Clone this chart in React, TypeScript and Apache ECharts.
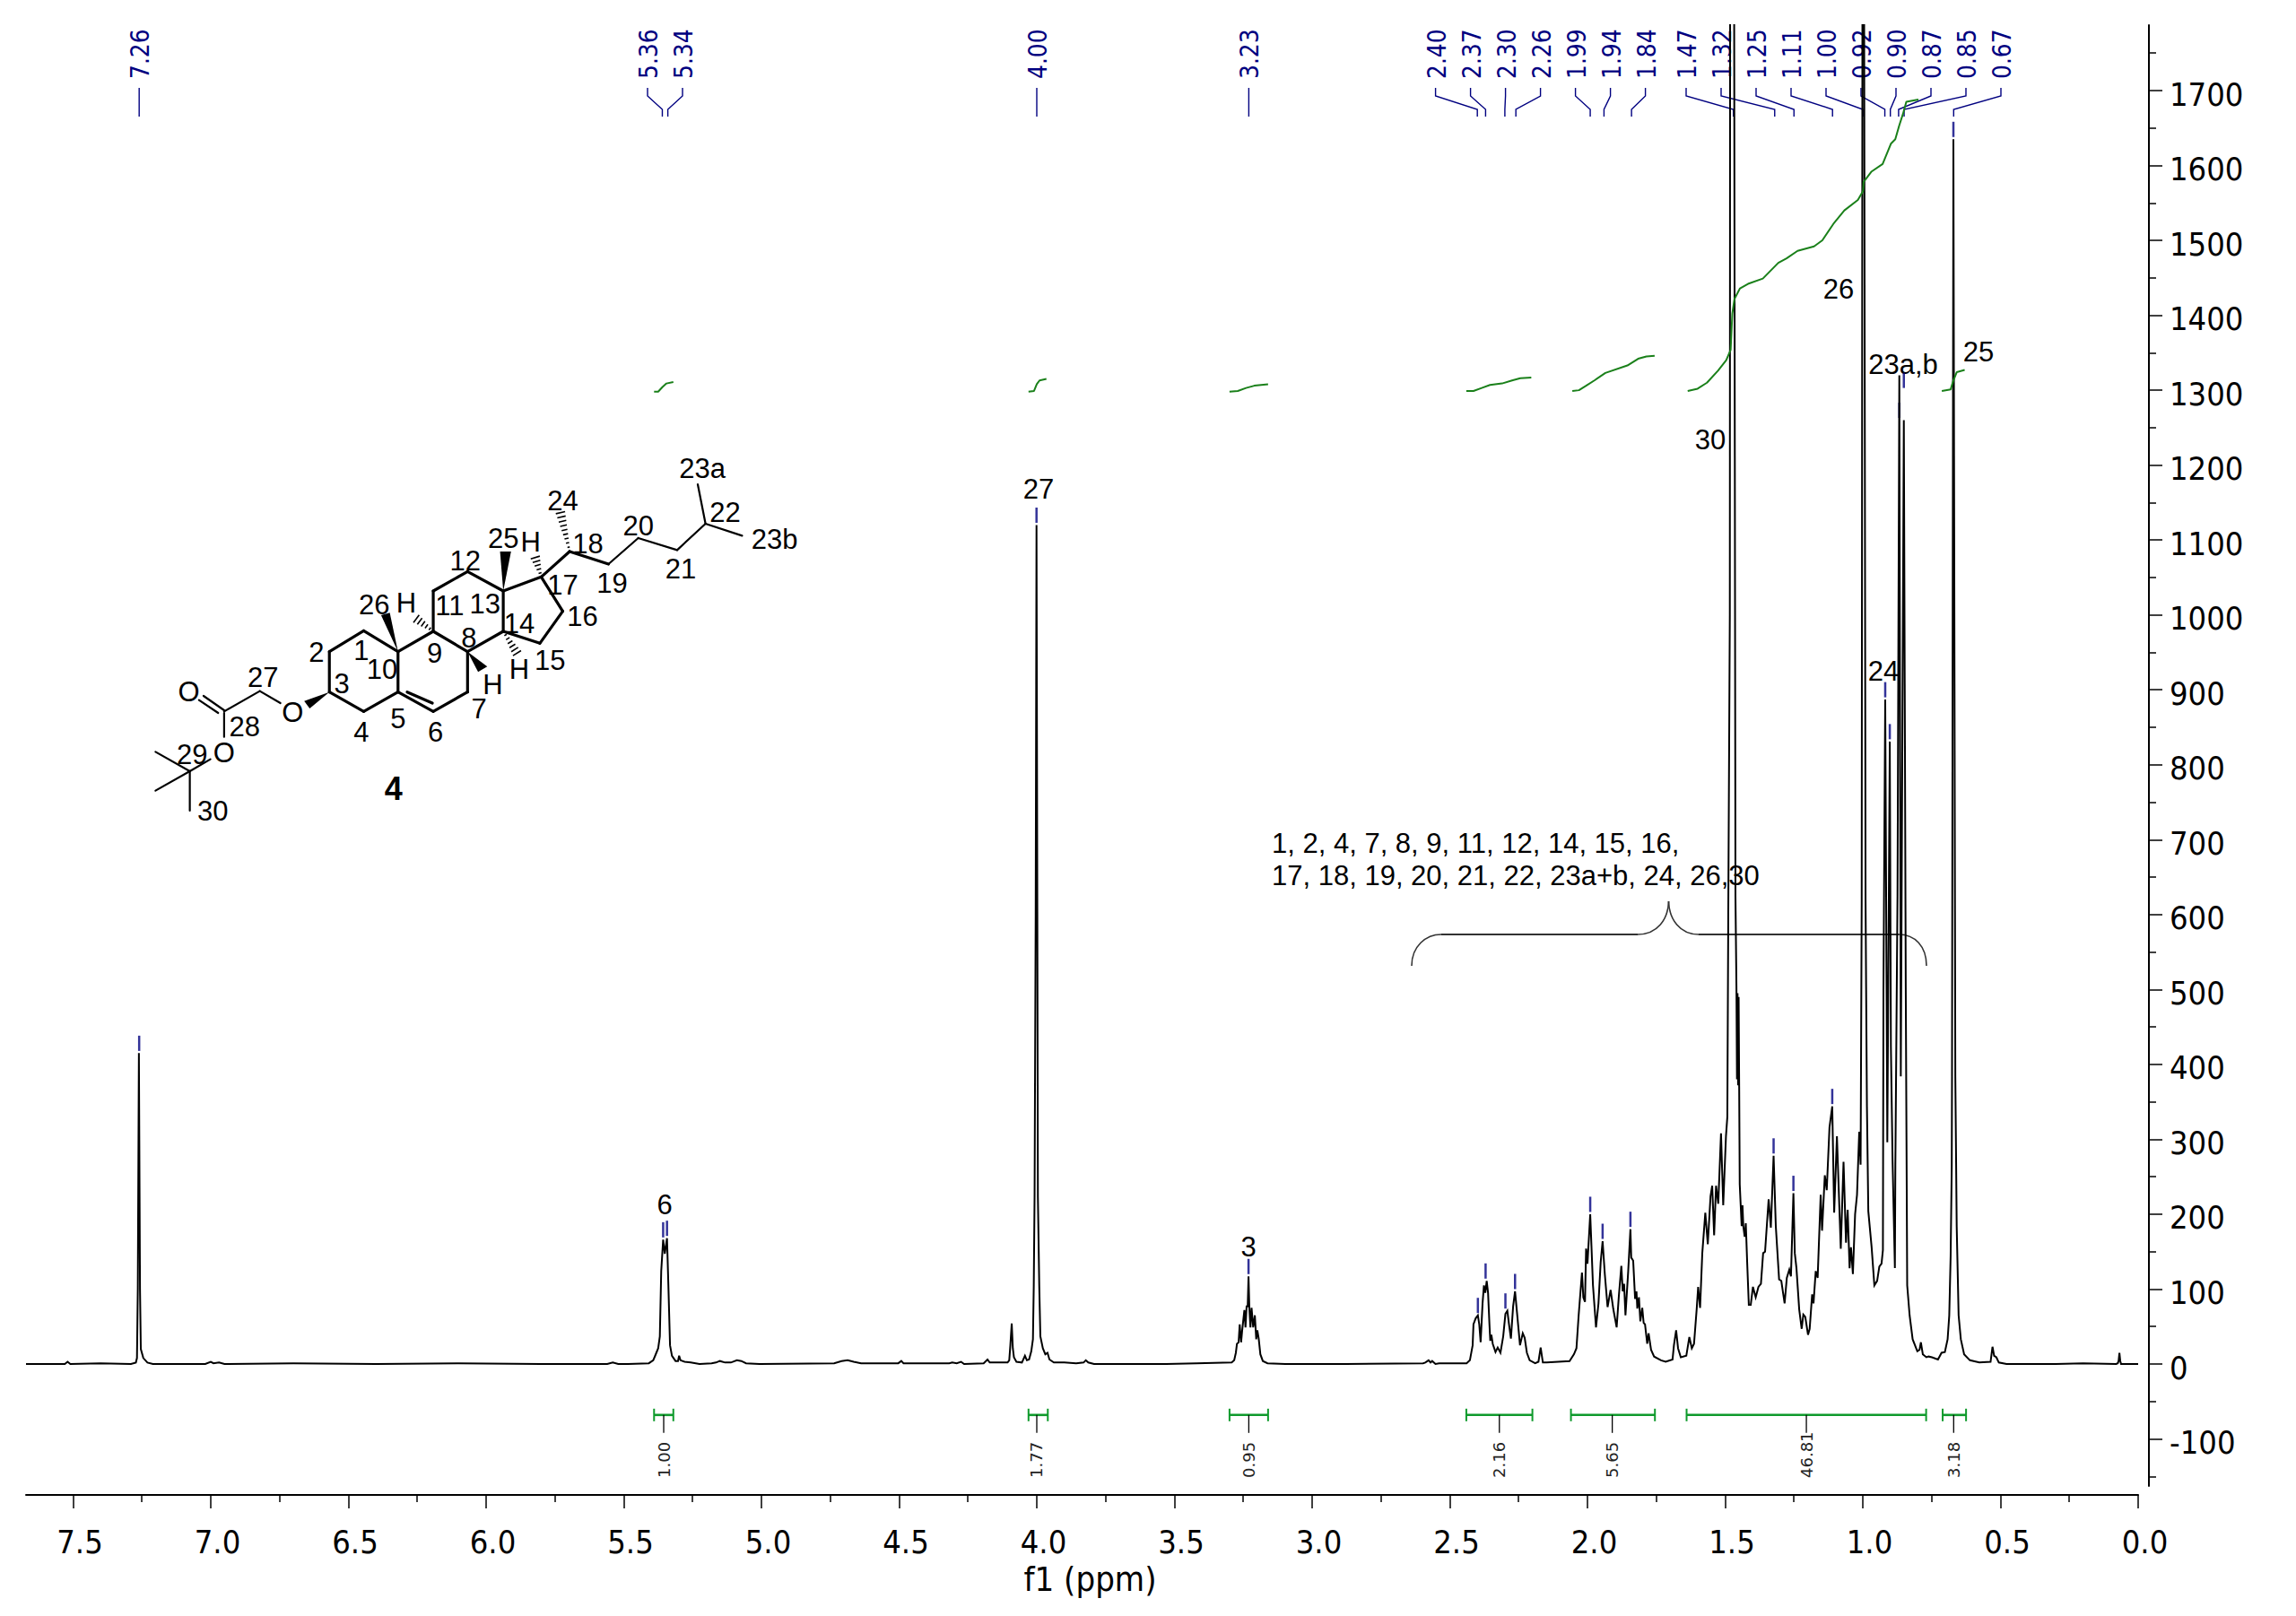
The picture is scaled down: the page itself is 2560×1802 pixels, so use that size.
import React, { useEffect, useRef } from "react";
import * as echarts from "echarts";

// ---------- DATA (ppm, intensity pairs) ----------
const spectrumHighField: [number, number][] = [
  [7.671, 0], [7.6, 0], [7.53, 0], [7.52, 3], [7.51, 0], [7.4, 1], [7.29, 0], [7.272, 2], [7.268, 8], [7.265, 100],
  [7.261, 415], [7.257, 100], [7.254, 20], [7.245, 8], [7.23, 2], [7.21, 0], [7.02, 0], [7.0, 3], [6.99, 1], [6.97, 2], [6.95, 0],
  [6.7, 1], [6.4, 0], [6.1, 1], [5.8, 0], [5.56, 0], [5.54, 2], [5.52, 0],
];
const spectrumOlefin: [number, number][] = [
  [5.485, 0], [5.409, 1], [5.393, 5], [5.385, 12], [5.375, 21], [5.369, 37], [5.364, 124], [5.357, 166], [5.351, 147],
  [5.343, 168], [5.338, 105], [5.332, 25], [5.325, 11], [5.312, 4], [5.303, 4], [5.299, 11], [5.294, 5], [5.279, 3],
  [5.257, 2], [5.225, 0], [5.181, 1], [5.165, 2], [5.151, 4], [5.132, 2], [5.111, 2], [5.089, 5], [5.073, 4], [5.056, 1],
  [5.007, 0], [4.736, 1], [4.709, 4], [4.687, 5], [4.665, 3], [4.638, 1], [4.503, 1], [4.492, 4], [4.484, 1], [4.318, 1],
  [4.307, 2], [4.291, 1], [4.275, 3], [4.264, 0], [4.193, 1], [4.179, 6], [4.171, 2],
];
const spectrumOCH2: [number, number][] = [
  [4.106, 2], [4.1, 5], [4.096, 25], [4.091, 54], [4.087, 21], [4.083, 9], [4.074, 3], [4.054, 2], [4.043, 11], [4.036, 5],
  [4.028, 6], [4.02, 17], [4.014, 33], [4.011, 104], [4.008, 224], [4.004, 600], [4.001, 1120], [3.998, 600], [3.996, 224],
  [3.991, 104], [3.987, 37], [3.978, 21], [3.969, 13], [3.961, 15], [3.954, 6], [3.938, 2], [3.9, 2], [3.857, 1], [3.83, 2],
  [3.822, 5], [3.813, 2], [3.792, 0], [3.531, 0],
];
const spectrumOCH: [number, number][] = [
  [3.42, 1], [3.292, 2], [3.283, 5], [3.277, 15], [3.273, 27], [3.267, 29], [3.263, 53], [3.258, 29], [3.254, 45], [3.246, 72],
  [3.242, 49], [3.238, 77], [3.234, 77], [3.231, 117], [3.228, 75], [3.224, 49], [3.22, 75], [3.214, 49], [3.208, 65], [3.203, 33],
  [3.199, 45], [3.194, 34], [3.188, 13], [3.179, 4], [3.162, 1], [3.097, 0], [2.88, 0],
];
const spectrumAllylic: [number, number][] = [
  [2.597, 1], [2.589, 2], [2.577, 5], [2.57, 2], [2.564, 4], [2.552, 0], [2.539, 1], [2.439, 1], [2.427, 5], [2.417, 25],
  [2.414, 53], [2.406, 61], [2.398, 65], [2.393, 53], [2.388, 29], [2.381, 81], [2.376, 105], [2.371, 95], [2.366, 111],
  [2.361, 95], [2.356, 53], [2.353, 31], [2.349, 39], [2.344, 27], [2.334, 16], [2.326, 22], [2.316, 15], [2.306, 37],
  [2.298, 67], [2.291, 71], [2.285, 53], [2.278, 34], [2.27, 77], [2.263, 97], [2.256, 69], [2.245, 25], [2.235, 41],
  [2.228, 35], [2.22, 15], [2.21, 5], [2.19, 1], [2.178, 3], [2.17, 22], [2.162, 2], [2.148, 2], [2.065, 4],
];
const spectrumMethylene: [number, number][] = [
  [2.049, 13], [2.04, 21], [2.032, 65], [2.02, 122], [2.015, 89], [2.009, 83], [2.005, 154], [2.0, 134], [1.99, 200],
  [1.98, 105], [1.969, 49], [1.96, 81], [1.952, 136], [1.945, 164], [1.937, 120], [1.927, 76], [1.916, 99], [1.906, 73],
  [1.894, 49], [1.886, 91], [1.877, 131], [1.872, 97], [1.867, 107], [1.862, 65], [1.852, 124], [1.844, 180], [1.841, 142],
  [1.834, 138], [1.827, 87], [1.822, 97], [1.819, 74], [1.813, 89], [1.808, 57], [1.801, 75], [1.796, 55], [1.791, 53],
  [1.783, 27], [1.778, 41], [1.769, 19], [1.758, 10], [1.733, 5], [1.716, 3], [1.691, 6], [1.686, 25], [1.678, 45],
  [1.671, 21], [1.661, 9], [1.641, 11], [1.63, 36], [1.621, 21], [1.613, 27], [1.603, 75], [1.598, 103], [1.591, 75],
  [1.583, 148], [1.572, 202], [1.563, 160], [1.553, 224], [1.547, 238], [1.54, 172], [1.533, 238], [1.525, 214], [1.515, 308],
  [1.507, 212], [1.497, 304], [1.492, 330], [1.4886, 600], [1.483, 1000],
];
const spectrumTertButyl: [number, number][] = [
  [1.481, 2500], [1.476, 4000], [1.47, 2500], [1.466, 1500], [1.4625, 624], [1.459, 505], [1.457, 380], [1.455, 495],
  [1.453, 372], [1.451, 490], [1.449, 370], [1.447, 240], [1.44, 184], [1.437, 212], [1.434, 184], [1.429, 170], [1.425, 188],
  [1.42, 136], [1.414, 79], [1.407, 79], [1.399, 103], [1.389, 89], [1.379, 103], [1.37, 107], [1.362, 148], [1.355, 150],
  [1.342, 220], [1.334, 182], [1.324, 278], [1.316, 184], [1.304, 113], [1.296, 111], [1.284, 81], [1.276, 115], [1.267, 126],
  [1.261, 117], [1.252, 228], [1.247, 148], [1.241, 128], [1.231, 73], [1.222, 47], [1.216, 66], [1.209, 63], [1.199, 39],
  [1.193, 47], [1.184, 93], [1.179, 81], [1.171, 124], [1.164, 115], [1.153, 226], [1.148, 178], [1.138, 252], [1.131, 232],
  [1.121, 316], [1.111, 344], [1.104, 202], [1.094, 304], [1.08, 154], [1.07, 270], [1.061, 162], [1.055, 206], [1.048, 128],
  [1.043, 156], [1.036, 120], [1.028, 200], [1.021, 226], [1.013, 310], [1.008, 266],
];
const spectrumMethyls: [number, number][] = [
  [1.004, 620], [1.001, 2000], [0.9985, 3000], [0.996, 2000], [0.99, 620], [0.988, 503], [0.985, 344], [0.98, 204],
  [0.968, 156], [0.958, 105], [0.948, 111], [0.94, 130], [0.932, 134], [0.927, 152], [0.925, 500], [0.9186, 887], [0.911, 296],
  [0.902, 831], [0.898, 424], [0.892, 273], [0.8835, 128], [0.8818, 265], [0.874, 624], [0.8674, 1320], [0.862, 384],
  [0.851, 1260], [0.844, 503], [0.8388, 105], [0.83, 65], [0.819, 33], [0.802, 17], [0.794, 19], [0.789, 29], [0.782, 13],
  [0.769, 9], [0.761, 10], [0.749, 9], [0.727, 6], [0.714, 15], [0.702, 16], [0.692, 33], [0.686, 65], [0.681, 144],
  [0.677, 264], [0.676, 384], [0.671, 1635], [0.664, 384], [0.659, 184], [0.652, 65], [0.644, 33], [0.632, 13], [0.611, 5],
  [0.577, 2], [0.536, 3], [0.529, 23], [0.523, 11], [0.515, 9], [0.506, 2], [0.478, 0], [0.3, 0], [0.2, 1], [0.08, 0],
  [0.074, 1], [0.071, 4], [0.068, 15], [0.065, 4], [0.062, 0], [0, 0],
];

const integralCurves: [number, number][][] = [
  [[5.39, 1298], [5.375, 1298], [5.36, 1304], [5.345, 1309], [5.32, 1311]],
  [[4.03, 1298], [4.01, 1299], [4.0, 1308], [3.99, 1313], [3.965, 1315]],
  [[3.3, 1298], [3.27, 1299], [3.24, 1303], [3.21, 1306], [3.16, 1308]],
  [[2.44, 1299], [2.414, 1299], [2.384, 1303], [2.354, 1307], [2.31, 1309], [2.274, 1313], [2.244, 1316], [2.204, 1317]],
  [[2.055, 1299], [2.031, 1300], [2.005, 1306], [1.975, 1313], [1.935, 1323], [1.855, 1333], [1.816, 1342], [1.786, 1345], [1.756, 1346]],
  [[1.636, 1299], [1.6, 1302], [1.566, 1310], [1.526, 1326], [1.496, 1340], [1.48, 1354], [1.474, 1402], [1.466, 1422], [1.446, 1436],
   [1.417, 1442], [1.363, 1449], [1.307, 1470], [1.277, 1476], [1.237, 1486], [1.177, 1492], [1.147, 1500], [1.107, 1522], [1.067, 1540],
   [1.018, 1554], [0.999, 1566], [0.997, 1578], [0.968, 1592], [0.928, 1602], [0.898, 1629], [0.882, 1635], [0.868, 1653], [0.854, 1669],
   [0.842, 1685], [0.798, 1688]],
  [[0.713, 1299], [0.681, 1301], [0.672, 1312], [0.659, 1324], [0.63, 1327]],
];

const integralFrom = [5.39, 4.03, 3.3, 2.44, 2.06, 1.64, 0.71];
const integralTo = [5.32, 3.96, 3.16, 2.2, 1.755, 0.77, 0.625];
const integralMid = [5.355, 4.0, 3.23, 2.32, 1.91, 1.205, 0.67];
const integralLabels = ["1.00", "1.77", "0.95", "2.16", "5.65", "46.81", "3.18"];

const peakPpm = [7.26, 5.36, 5.34, 4.0, 3.23, 2.4, 2.37, 2.3, 2.26, 1.99, 1.94, 1.84, 1.47, 1.32, 1.25, 1.11, 1.0, 0.92, 0.9, 0.87, 0.85, 0.67];
const peakLabels = ["7.26", "5.36", "5.34", "4.00", "3.23", "2.40", "2.37", "2.30", "2.26", "1.99", "1.94", "1.84", "1.47", "1.32", "1.25", "1.11", "1.00", "0.92", "0.90", "0.87", "0.85", "0.67"];
const markerPoints: [number, number][] = [
  [7.26, 415], [5.357, 166], [5.343, 168], [4.001, 1120], [3.231, 117], [2.398, 65], [2.37, 111], [2.298, 71], [2.263, 97],
  [1.99, 200], [1.945, 164], [1.844, 180], [1.324, 278], [1.252, 228], [1.111, 344], [0.9186, 887], [0.902, 831], [0.8674, 1260], [0.851, 1300], [0.671, 1635],
];

const xTickValues = [0, 0.5, 1, 1.5, 2, 2.5, 3, 3.5, 4, 4.5, 5, 5.5, 6, 6.5, 7, 7.5];
const xMinorTickValues = [0.25, 0.75, 1.25, 1.75, 2.25, 2.75, 3.25, 3.75, 4.25, 4.75, 5.25, 5.75, 6.25, 6.75, 7.25];
const yTickValues = [-100, 0, 100, 200, 300, 400, 500, 600, 700, 800, 900, 1000, 1100, 1200, 1300, 1400, 1500, 1600, 1700];
const yMinorTickValues = [-150, -50, 50, 150, 250, 350, 450, 550, 650, 750, 850, 950, 1050, 1150, 1250, 1350, 1450, 1550, 1650, 1750];

// ---------- LAYOUT ----------
const AXIS_FONT = '"DejaVu Sans Condensed", "DejaVu Sans", sans-serif';
const ARIAL = '"Liberation Sans", Arial, sans-serif';
const NAVY = "#000080";

const slotX = (i: number): number | null => {
  if (i === 1) return 722;
  if (i === 2) return 761;
  if (i >= 5 && i <= 11) return 1600.6 + (i - 5) * 39;
  if (i >= 12) return 1880 + (i - 12) * 39;
  return null;
};

const peakAnnotations: [string, number, number][] = [
  ["27", 1158, 545], ["6", 741, 1343], ["3", 1392, 1390], ["30", 1907, 490], ["26", 2050, 322],
  ["23a,b", 2122, 406], ["25", 2206, 392], ["24", 2100, 748],
  ["1, 2, 4, 7, 8, 9, 11, 12, 14, 15, 16,", -1, 940], ["17, 18, 19, 20, 21, 22, 23a+b, 24, 26,30", -1, 976],
];

// molecule drawing, in a local frame
const mx = (v: number) => 130 + v / 1.96;
const my = (v: number) => 480 + v / 3;
const boldBonds: number[][] = [
  [465, 740, 540, 670], [540, 670, 615, 740], [615, 740, 615, 875], [615, 875, 540, 940], [540, 940, 465, 875], [465, 875, 465, 740],
  [615, 740, 692, 672], [692, 672, 767, 740], [767, 740, 767, 875], [767, 875, 692, 940], [692, 940, 615, 875], [635, 875, 690, 912],
  [692, 672, 692, 537], [692, 537, 767, 472], [767, 472, 845, 537], [845, 537, 845, 672], [845, 672, 767, 740],
  [845, 537, 928, 490], [928, 490, 975, 605], [975, 605, 925, 712], [925, 712, 845, 672], [928, 490, 990, 405], [990, 405, 1075, 447],
];
const thinBonds: number[][] = [
  [1075, 447, 1140, 360], [1140, 360, 1225, 400], [1225, 400, 1287, 312], [1287, 312, 1270, 180], [1287, 312, 1367, 352],
  [358, 912, 313, 872], [313, 872, 235, 940], [235, 936, 190, 888], [222, 945, 180, 902], [235, 945, 235, 1025],
  [205, 1100, 160, 1140], [160, 1140, 85, 1075], [160, 1140, 85, 1205], [160, 1140, 160, 1272],
];
const wedges: number[][] = [
  [615, 740, 578, 618, 597, 610], [845, 537, 838, 405, 862, 405], [767, 740, 810, 790, 790, 808], [465, 875, 410, 905, 422, 930],
];
const hashes: number[][] = [
  [692, 672, 655, 630], [845, 672, 875, 745], [928, 490, 915, 425], [990, 405, 970, 275],
];
const atomLabels: [string, number, number][] = [
  ["23a", 1280, 128], ["22", 1330, 275], ["23b", 1438, 365], ["24", 975, 235], ["18", 1030, 378], ["25", 845, 360], ["H", 905, 372],
  ["20", 1140, 318], ["19", 1083, 510], ["21", 1233, 463], ["12", 762, 437], ["17", 975, 518], ["16", 1018, 622], ["11", 728, 585],
  ["13", 805, 580], ["26", 563, 582], ["H", 633, 577], ["14", 880, 645], ["8", 770, 693], ["2", 437, 742], ["1", 535, 735], ["9", 695, 745],
  ["10", 580, 800], ["15", 947, 770], ["H", 880, 800], ["H", 822, 850], ["27", 320, 825], ["3", 492, 848], ["O", 158, 875], ["7", 792, 930],
  ["5", 615, 965], ["6", 697, 1008], ["4", 535, 1008], ["O", 385, 942], ["28", 280, 990], ["O", 235, 1078], ["29", 165, 1085], ["30", 210, 1272],
];

function moleculeGraphics(): any[] {
  const out: any[] = [];
  const line = (b: number[], w: number) => ({
    type: "line", silent: true,
    shape: { x1: mx(b[0]), y1: my(b[1]), x2: mx(b[2]), y2: my(b[3]) },
    style: { stroke: "#000", lineWidth: w, lineCap: "round" },
  });
  boldBonds.forEach((b) => out.push(line(b, 3.2)));
  thinBonds.forEach((b) => out.push(line(b, 2.2)));
  wedges.forEach((w) =>
    out.push({
      type: "polygon", silent: true,
      shape: { points: [[mx(w[0]), my(w[1])], [mx(w[2]), my(w[3])], [mx(w[4]), my(w[5])]] },
      style: { fill: "#000" },
    })
  );
  hashes.forEach((h) => {
    const ax = mx(h[0]), ay = my(h[1]), bx = mx(h[2]), by = my(h[3]);
    const len = Math.hypot(bx - ax, by - ay);
    const nx = -(by - ay) / len, ny = (bx - ax) / len;
    const n = Math.max(3, Math.round(len / 5));
    for (let i = 1; i <= n; i++) {
      const t = i / n, cx = ax + (bx - ax) * t, cy = ay + (by - ay) * t, hw = 0.8 + t * 4.5;
      out.push({
        type: "line", silent: true,
        shape: { x1: cx - nx * hw, y1: cy - ny * hw, x2: cx + nx * hw, y2: cy + ny * hw },
        style: { stroke: "#000", lineWidth: 1.6 },
      });
    }
  });
  atomLabels.forEach(([t, x, y]) =>
    out.push({
      type: "text", silent: true, x: mx(x), y: my(y),
      style: { text: t, fontSize: 31, fontFamily: ARIAL, fill: "#000", align: "center", verticalAlign: "middle" },
    })
  );
  out.push({
    type: "text", silent: true, x: mx(605), y: my(1197),
    style: { text: "4", fontSize: 36, fontWeight: "bold", fontFamily: ARIAL, fill: "#000", align: "center", verticalAlign: "middle" },
  });
  return out;
}

function annotationGraphics(): any[] {
  const out: any[] = [];
  peakAnnotations.forEach(([t, x, y]) =>
    out.push({
      type: "text", silent: true, x: x < 0 ? 1418 : x, y,
      style: { text: t, fontSize: 31, fontFamily: ARIAL, fill: "#000", align: x < 0 ? "left" : "center", verticalAlign: "middle" },
    })
  );
  const brace = { stroke: "#333", lineWidth: 1.6, fill: "none" };
  out.push({ type: "bezierCurve", silent: true, shape: { x1: 1574, y1: 1077, cpx1: 1574, cpy1: 1055, cpx2: 1590, cpy2: 1042, x2: 1607, y2: 1042 }, style: brace });
  out.push({ type: "line", silent: true, shape: { x1: 1607, y1: 1042, x2: 1826, y2: 1042 }, style: { stroke: "#333", lineWidth: 2 } });
  out.push({ type: "bezierCurve", silent: true, shape: { x1: 1826, y1: 1042, cpx1: 1848, cpy1: 1042, cpx2: 1860, cpy2: 1025, x2: 1860.5, y2: 1005 }, style: brace });
  out.push({ type: "bezierCurve", silent: true, shape: { x1: 1860.5, y1: 1005, cpx1: 1861, cpy1: 1025, cpx2: 1873, cpy2: 1042, x2: 1894, y2: 1042 }, style: brace });
  out.push({ type: "line", silent: true, shape: { x1: 1894, y1: 1042, x2: 2117, y2: 1042 }, style: { stroke: "#333", lineWidth: 2 } });
  out.push({ type: "bezierCurve", silent: true, shape: { x1: 2117, y1: 1042, cpx1: 2135, cpy1: 1042, cpx2: 2148, cpy2: 1055, x2: 2148, y2: 1077 }, style: brace });
  return out;
}

const spectrum = [
  ...spectrumHighField, ...spectrumOlefin, ...spectrumOCH2, ...spectrumOCH,
  ...spectrumAllylic, ...spectrumMethylene, ...spectrumTertButyl, ...spectrumMethyls,
];

function buildOption(): any {
  const axisLine = { show: true, onZero: false, lineStyle: { color: "#000", width: 2 } };
  return {
    animation: false,
    backgroundColor: "#fff",
    grid: { left: 29, right: 176, top: 28, bottom: 145, containLabel: false },
    xAxis: [
      {
        type: "value", inverse: true, min: 0, max: 7.671, position: "bottom", offset: 10,
        axisLine, splitLine: { show: false },
        axisTick: { show: true, length: 15, customValues: xTickValues, lineStyle: { color: "#000", width: 1.5 } },
        axisLabel: {
          show: true, customValues: xTickValues, margin: 34, fontSize: 36, fontFamily: AXIS_FONT, color: "#000",
          padding: [0, 0, 0, 15], formatter: (v: number) => v.toFixed(1),
        },
        name: "f1 (ppm)", nameLocation: "middle", nameGap: 72,
        nameTextStyle: { fontSize: 38, fontFamily: AXIS_FONT, color: "#000", padding: [0, 0, 0, 18] },
      },
      {
        type: "value", inverse: true, min: 0, max: 7.671, position: "bottom", offset: 10,
        axisLine: { show: false, onZero: false }, splitLine: { show: false },
        axisTick: { show: true, length: 8, customValues: xMinorTickValues, lineStyle: { color: "#000", width: 1.5 } },
        axisLabel: { show: false },
      },
    ],
    yAxis: [
      {
        type: "value", min: -162.8, max: 1787.4, position: "right", offset: 12,
        axisLine, splitLine: { show: false },
        axisTick: { show: true, length: 15, customValues: yTickValues, lineStyle: { color: "#000", width: 1.5 } },
        axisLabel: {
          show: true, customValues: yTickValues, margin: 23, fontSize: 36, fontFamily: AXIS_FONT, color: "#000", align: "left",
          verticalAlign: "top", lineHeight: 8, formatter: (v: number) => String(v),
        },
      },
      {
        type: "value", min: -162.8, max: 1787.4, position: "right", offset: 12,
        axisLine: { show: false, onZero: false }, splitLine: { show: false },
        axisTick: { show: true, length: 8, customValues: yMinorTickValues, lineStyle: { color: "#000", width: 1.5 } },
        axisLabel: { show: false },
      },
    ],
    series: [
      {
        type: "line", data: spectrum, showSymbol: false, symbol: "none", clip: true, silent: true, z: 5,
        lineStyle: { color: "#000", width: 2, join: "miter" },
      },
      ...integralCurves.map((c) => ({
        type: "line", data: c, showSymbol: false, symbol: "none", silent: true, z: 6,
        lineStyle: { color: "#1a801a", width: 2 },
      })),
      {
        type: "scatter", data: markerPoints, symbol: "rect", symbolSize: [2.5, 17], symbolOffset: [0, -11], silent: true, z: 4,
        itemStyle: { color: NAVY },
      },
      {
        type: "custom", silent: true, z: 4,
        data: integralMid.map((m, i) => [m, i]),
        renderItem: (params: any, api: any) => {
          const i = params.dataIndex;
          const a = api.coord([integralFrom[i], -68]);
          const b = api.coord([integralTo[i], -68]);
          const mid = api.coord([integralMid[i], -68]);
          const green = { stroke: "#0f9a2c", lineWidth: 2 };
          return {
            type: "group",
            children: [
              { type: "line", shape: { x1: a[0], y1: a[1], x2: b[0], y2: b[1] }, style: { stroke: "#0f9a2c", lineWidth: 2.6 } },
              { type: "line", shape: { x1: a[0], y1: a[1] - 7, x2: a[0], y2: a[1] + 7 }, style: green },
              { type: "line", shape: { x1: b[0], y1: b[1] - 7, x2: b[0], y2: b[1] + 7 }, style: green },
              { type: "line", shape: { x1: mid[0], y1: mid[1], x2: mid[0], y2: mid[1] + 20 }, style: { stroke: "#000", lineWidth: 1.3 } },
              {
                type: "text", x: mid[0], y: 1648, rotation: Math.PI / 2,
                style: { text: integralLabels[i], fontSize: 18, fontFamily: '"DejaVu Sans", sans-serif', fill: "#222", align: "left", verticalAlign: "middle" },
              },
            ],
          };
        },
      },
      {
        type: "custom", silent: true, z: 4,
        data: peakPpm.map((p, i) => [p, i]),
        renderItem: (params: any, api: any) => {
          const i = params.dataIndex;
          const px = api.coord([peakPpm[i], 0])[0];
          const slot = slotX(i);
          const tx = slot === null ? px : slot;
          return {
            type: "group",
            children: [
              {
                type: "polyline",
                shape: { points: [[tx, 98], [tx, 107], [px, 122], [px, 130]] },
                style: { stroke: NAVY, lineWidth: 1.4, fill: "none" },
              },
              {
                type: "text", x: tx + 1, y: 88, rotation: Math.PI / 2, scaleY: 1.12,
                style: { text: peakLabels[i], fontSize: 25, fontFamily: '"DejaVu Sans", sans-serif', fill: NAVY, align: "left", verticalAlign: "middle" },
              },
            ],
          };
        },
      },
    ],
    graphic: { elements: [...moleculeGraphics(), ...annotationGraphics()] },
  };
}

export default function App() {
  const ref = useRef<HTMLDivElement>(null);
  useEffect(() => {
    if (!ref.current) return;
    const chart = echarts.init(ref.current, undefined, { renderer: "svg" });
    chart.setOption(buildOption());
    return () => chart.dispose();
  }, []);
  return <div ref={ref} style={{ position: "absolute", left: 0, top: 0, width: 2560, height: 1802, background: "#fff" }} />;
}
